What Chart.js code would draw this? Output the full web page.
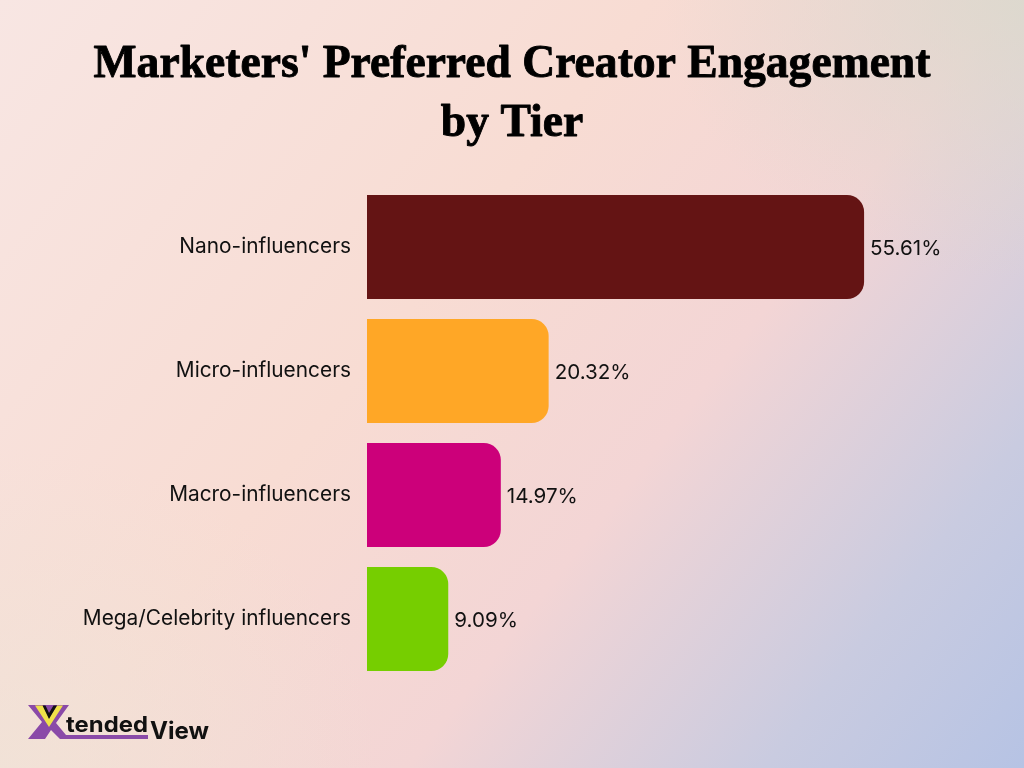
<!DOCTYPE html>
<html>
<head>
<meta charset="utf-8">
<script src="https://cdn.jsdelivr.net/npm/chart.js@4"></script>
<style>
html,body{margin:0;padding:0;width:1024px;height:768px;overflow:hidden}
body{position:relative;background:
 radial-gradient(ellipse 360px 280px at 100% 0%,rgba(214,218,204,.75),rgba(214,218,204,0) 100%),
 radial-gradient(ellipse 380px 320px at 0% 100%,rgba(238,228,216,.7),rgba(238,228,216,0) 100%),
 linear-gradient(128deg,#f8e6e3 0%,#f8dcd3 40%,#f3d5d5 62%,#c9cbe0 84%,#b6c3e4 100%)}
#c{position:absolute;left:0;top:0;width:1024px;height:768px}
#logo{position:absolute;left:0;top:680px}
</style>
</head>
<body>
<canvas id="c" width="1024" height="768"></canvas>
<svg id="logo" width="240" height="88" viewBox="0 0 240 88">
  <polygon points="28,25 69,25 56,43 66,55 148,55 148,59 60,59 51,50 45,59 28,59 42,42" fill="#8a4aa8"/>
  <polygon points="35,25.5 43,25.5 49,38 57,25.5 63,25.5 49,47" fill="#efe24a"/>
  <polygon points="42.5,25.5 45.5,25.5 49,33 53.5,25.5 57,25.5 49,39" fill="#111"/>
  <text x="66" y="52" font-family="Inter" font-weight="700" font-size="22" textLength="82" lengthAdjust="spacingAndGlyphs" fill="#111">tended</text>
  <text x="150" y="59" font-family="Inter" font-weight="700" font-size="24" textLength="59" lengthAdjust="spacingAndGlyphs" fill="#111">View</text>
</svg>
<script>
const categories = ['Nano-influencers','Micro-influencers','Macro-influencers','Mega/Celebrity influencers'];
const values = [55.61,20.32,14.97,9.09];
const barColors = ['#641414','#FFA726','#CC007A','#76CE00'];
const titleLines = ["Marketers' Preferred Creator Engagement","by Tier"];

const valueLabels = {
  id:'valueLabels',
  afterDatasetsDraw(chart){
    const {ctx} = chart;
    const meta = chart.getDatasetMeta(0);
    ctx.save();
    ctx.font = '20.6px Inter';
    ctx.fillStyle = '#111';
    ctx.textAlign = 'left';
    ctx.textBaseline = 'middle';
    meta.data.forEach((bar,i)=>{
      ctx.fillText(values[i].toFixed(2)+'%', bar.x+6, bar.y+2);
    });
    ctx.restore();
  }
};
// Thickens the title strokes to match the heavy display face of the reference.
const titleWeight = {
  id:'titleWeight',
  afterDraw(chart){
    const {ctx} = chart, t = chart.titleBlock;
    const f = t.options.font, lh = f.lineHeight * f.size;
    ctx.save();
    ctx.font = 'bold '+f.size+'px "'+f.family+'"';
    ctx.textAlign='center';ctx.textBaseline='middle';
    ctx.strokeStyle='#000';ctx.lineWidth=0.9;ctx.lineJoin='round';
    const top = t.top + t.options.padding.top;
    titleLines.forEach((s,i)=>ctx.strokeText(s,chart.width/2,top+lh*(i+0.5)));
    ctx.restore();
  }
};

new Chart(document.getElementById('c'),{
  type:'bar',
  data:{labels:categories,datasets:[{data:values,backgroundColor:barColors,
    borderRadius:{topLeft:0,bottomLeft:0,topRight:17,bottomRight:17},borderSkipped:false,
    barPercentage:0.8387,categoryPercentage:1}]},
  plugins:[valueLabels,titleWeight],
  options:{
    indexAxis:'y',responsive:false,animation:false,devicePixelRatio:1,
    layout:{padding:{left:0,right:0,top:0,bottom:87}},
    plugins:{
      legend:{display:false},tooltip:{enabled:false},
      title:{display:true,text:titleLines,color:'#000',
        font:{family:'Liberation Serif',weight:'bold',size:45.6,lineHeight:1.294},
        padding:{top:36,bottom:31}}
    },
    scales:{
      x:{display:false,min:0,max:73.5},
      y:{grid:{display:false,drawTicks:false},border:{display:false},
        afterFit(s){s.width=367;},
        ticks:{color:'#111',font:{family:'Inter',size:20.85},padding:16}}
    }
  }
});
</script>
</body>
</html>
